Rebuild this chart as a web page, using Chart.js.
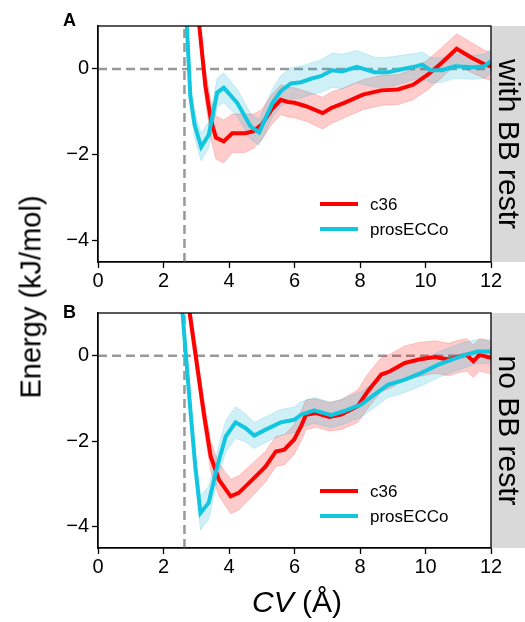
<!DOCTYPE html>
<html>
<head>
<meta charset="utf-8">
<script src="https://cdn.jsdelivr.net/npm/chart.js@4"></script>
<style>
  body { margin: 0; background: #fff; }
  #wrap { position: relative; width: 525px; height: 622px; font-family: "Liberation Sans", Arial, sans-serif; }
  canvas { position: absolute; left: 0; }
  .lbl { position: absolute; white-space: nowrap; color: #000; line-height: 1; }
</style>
</head>
<body>
<div id="wrap">
  <canvas id="chartA" width="525" height="290" style="top:0"></canvas>
  <canvas id="chartB" width="525" height="332" style="top:290px"></canvas>
  <div class="lbl" style="font-size:29px; left:31px; top:297px; transform: translate(-50%,-50%) rotate(-90deg);">Energy (kJ/mol)</div>
  <div class="lbl" style="font-size:30px; left:297px; top:602px; transform: translate(-50%,-50%);"><i>CV</i> (Å)</div>
</div>
<script>
// ticks
const xTicks = [0, 2, 4, 6, 8, 10, 12];
const yTicks = [-4, -2, 0];
const vLineX = 2.64;

// panel A: with BB restr
const aC36X = [2.95, 3.1, 3.28, 3.45, 3.6, 3.84, 4.1, 4.5, 4.75, 5.0, 5.3, 5.58, 5.8, 6.0, 6.35, 6.86, 7.12, 7.52, 8.09, 8.65, 9.16, 9.62, 10.08, 10.49, 10.95, 11.41, 11.82, 12.0];
const aC36Y = [2.8, 0.95, -0.4, -1.2, -1.6, -1.69, -1.5, -1.5, -1.45, -1.3, -0.95, -0.72, -0.77, -0.79, -0.87, -1.03, -0.91, -0.79, -0.6, -0.5, -0.48, -0.37, -0.13, 0.14, 0.47, 0.26, 0.1, 0.06];
const aC36E = [0.3, 0.3, 0.35, 0.45, 0.5, 0.5, 0.45, 0.45, 0.4, 0.35, 0.35, 0.35, 0.35, 0.35, 0.35, 0.37, 0.37, 0.35, 0.35, 0.35, 0.35, 0.35, 0.35, 0.35, 0.35, 0.35, 0.33, 0.33];
const aProX = [2.6, 2.72, 2.82, 2.95, 3.15, 3.38, 3.64, 3.84, 4.25, 4.66, 4.92, 5.33, 5.58, 5.89, 6.2, 6.5, 6.8, 7.15, 7.45, 7.9, 8.45, 8.85, 9.2, 9.7, 9.9, 10.15, 10.5, 10.9, 11.45, 11.8, 12.0];
const aProY = [2.3, 0.9, -0.64, -1.3, -1.82, -1.54, -0.55, -0.44, -0.79, -1.34, -1.48, -0.79, -0.52, -0.34, -0.31, -0.23, -0.17, -0.03, -0.06, 0.05, -0.08, -0.08, -0.02, 0.06, 0.1, -0.03, -0.03, 0.06, 0.04, 0.06, 0.18];
const aProE = [0.25, 0.25, 0.28, 0.3, 0.32, 0.3, 0.33, 0.35, 0.32, 0.3, 0.3, 0.33, 0.36, 0.37, 0.37, 0.37, 0.38, 0.4, 0.4, 0.38, 0.35, 0.35, 0.33, 0.3, 0.3, 0.3, 0.28, 0.28, 0.28, 0.28, 0.28];

// panel B: no BB restr
const bC36X = [2.6, 2.8, 3.03, 3.23, 3.44, 3.69, 4.05, 4.3, 4.77, 5.12, 5.43, 5.69, 5.99, 6.2, 6.35, 6.66, 7.06, 7.42, 7.93, 8.24, 8.65, 8.9, 9.37, 9.8, 10.29, 10.7, 11.0, 11.25, 11.46, 11.65, 12.0];
const bC36Y = [2.1, 1.0, -0.25, -1.34, -2.35, -2.9, -3.29, -3.21, -2.86, -2.59, -2.24, -2.2, -1.96, -1.65, -1.38, -1.34, -1.43, -1.38, -1.18, -0.83, -0.44, -0.37, -0.17, -0.09, -0.03, -0.09, -0.02, 0.02, -0.13, 0.02, -0.05];
const bC36E = [0.3, 0.3, 0.3, 0.32, 0.35, 0.38, 0.4, 0.4, 0.38, 0.36, 0.35, 0.35, 0.35, 0.35, 0.35, 0.33, 0.33, 0.35, 0.38, 0.4, 0.4, 0.4, 0.4, 0.4, 0.38, 0.38, 0.38, 0.38, 0.38, 0.38, 0.38];
const bProX = [2.45, 2.58, 2.82, 2.97, 3.13, 3.38, 3.64, 3.9, 4.2, 4.5, 4.77, 5.12, 5.58, 5.99, 6.2, 6.6, 7.12, 7.5, 8.04, 8.44, 8.85, 9.37, 9.88, 10.39, 10.8, 11.2, 11.6, 12.0];
const bProY = [2.0, 1.0, -1.26, -2.59, -3.68, -3.44, -2.59, -1.89, -1.56, -1.69, -1.87, -1.73, -1.56, -1.5, -1.38, -1.28, -1.39, -1.3, -1.14, -0.91, -0.68, -0.56, -0.4, -0.21, -0.09, 0.02, 0.1, 0.1];
const bProE = [0.28, 0.28, 0.3, 0.35, 0.4, 0.38, 0.35, 0.37, 0.37, 0.33, 0.3, 0.3, 0.3, 0.3, 0.3, 0.3, 0.3, 0.3, 0.3, 0.3, 0.3, 0.3, 0.3, 0.3, 0.3, 0.3, 0.28, 0.28];

const RED = '#ff0000';
const CYAN = '#12c6df';
const FONT = '"Liberation Sans", Arial, sans-serif';

function pts(xs, ys, es, sign) {
    return xs.map((x, i) => ({ x: x, y: ys[i] + sign * (es ? es[i] : 0) }));
}

function makeDatasets(c36x, c36y, c36e, prox, proy, proe) {
    const line = (data, color, order) => ({
        data: data, borderColor: color, borderWidth: 4, pointRadius: 0,
        tension: 0, fill: false, order: order, clip: 0
    });
    const band = (data, fill, color, fillColor, order) => ({
        data: data, borderColor: color, borderWidth: 1, pointRadius: 0,
        tension: 0, fill: fill, backgroundColor: fillColor, order: order, clip: 0
    });
    const dash = (data) => ({
        data: data, borderColor: '#999999', borderWidth: 2.5, borderDash: [9, 5],
        pointRadius: 0, fill: false, order: 6, clip: 0
    });
    return [
        line(pts(c36x, c36y, null, 0), RED, 1),
        line(pts(prox, proy, null, 0), CYAN, 0),
        band(pts(c36x, c36y, c36e, 1), 3, 'rgba(255,0,0,0.18)', 'rgba(255,0,0,0.2)', 3),
        band(pts(c36x, c36y, c36e, -1), false, 'rgba(255,0,0,0.18)', 'rgba(255,0,0,0.2)', 3),
        band(pts(prox, proy, proe, 1), 5, 'rgba(18,180,215,0.18)', 'rgba(18,180,215,0.2)', 2),
        band(pts(prox, proy, proe, -1), false, 'rgba(18,180,215,0.18)', 'rgba(18,180,215,0.2)', 2),
        dash([{ x: 0, y: 0 }, { x: 12, y: 0 }]),
        dash([{ x: vLineX, y: -4.5 }, { x: vLineX, y: 1 }])
    ];
}

function decor(panel, stripText, labelY) {
    return {
        id: 'decor' + panel,
        afterDraw(chart) {
            const ctx = chart.ctx;
            const a = chart.chartArea;
            ctx.save();
            // side strip
            ctx.fillStyle = '#d9d9d9';
            ctx.fillRect(a.right, a.top, chart.width - a.right, a.bottom - a.top);
            ctx.fillStyle = '#000';
            ctx.font = '30px ' + FONT;
            ctx.textAlign = 'center';
            ctx.textBaseline = 'middle';
            ctx.translate(a.right + 16, (a.top + a.bottom) / 2);
            ctx.rotate(Math.PI / 2);
            ctx.fillText(stripText, 0, 0);
            ctx.restore();
            // frame
            ctx.save();
            ctx.strokeStyle = '#000';
            ctx.lineWidth = 1.3;
            ctx.strokeRect(a.left, a.top, a.right - a.left, a.bottom - a.top);
            // panel letter
            ctx.fillStyle = '#000';
            ctx.font = 'bold 18px ' + FONT;
            ctx.textAlign = 'left';
            ctx.textBaseline = 'alphabetic';
            ctx.fillText(panel, 63, labelY);
            // legend
            const items = [['c36', RED], ['prosECCo', CYAN]];
            ctx.font = '17px ' + FONT;
            ctx.textBaseline = 'middle';
            items.forEach((it, i) => {
                const y = a.top + 178 + i * 25;
                ctx.strokeStyle = it[1];
                ctx.lineWidth = 4;
                ctx.beginPath();
                ctx.moveTo(320, y);
                ctx.lineTo(358, y);
                ctx.stroke();
                ctx.fillText(it[0], 370, y + 1);
            });
            ctx.restore();
        }
    };
}

function makeChart(id, datasets, padTop, xHeight, panel, stripText, labelY) {
    return new Chart(document.getElementById(id), {
        type: 'line',
        data: { datasets: datasets },
        options: {
            responsive: false,
            devicePixelRatio: 1,
            animation: false,
            layout: { padding: { left: 0, top: padTop, right: 34, bottom: 0 } },
            plugins: { legend: { display: false }, tooltip: { enabled: false } },
            scales: {
                x: {
                    type: 'linear', min: 0, max: 12,
                    afterBuildTicks: s => { s.ticks = xTicks.map(v => ({ value: v })); },
                    afterFit: s => { s.height = xHeight; },
                    ticks: { color: '#000', font: { family: FONT, size: 20 }, padding: 1, maxRotation: 0 },
                    grid: { drawOnChartArea: false, tickLength: 6, tickColor: '#000', tickWidth: 1.3 },
                    border: { color: '#000', width: 1.3 }
                },
                y: {
                    type: 'linear', min: -4.5, max: 1,
                    afterBuildTicks: s => { s.ticks = yTicks.map(v => ({ value: v })); },
                    afterFit: s => { s.width = 98; },
                    ticks: {
                        color: '#000', font: { family: FONT, size: 20 }, padding: 3,
                        callback: v => String(v).replace('-', '\u2212')
                    },
                    grid: { drawOnChartArea: false, tickLength: 6, tickColor: '#000', tickWidth: 1.3 },
                    border: { color: '#000', width: 1.3 }
                }
            }
        },
        plugins: [decor(panel, stripText, labelY)]
    });
}

makeChart('chartA', makeDatasets(aC36X, aC36Y, aC36E, aProX, aProY, aProE), 26, 28, 'A', 'with BB restr', 26);
makeChart('chartB', makeDatasets(bC36X, bC36Y, bC36E, bProX, bProY, bProE), 23, 74, 'B', 'no BB restr', 28);
</script>
</body>
</html>
